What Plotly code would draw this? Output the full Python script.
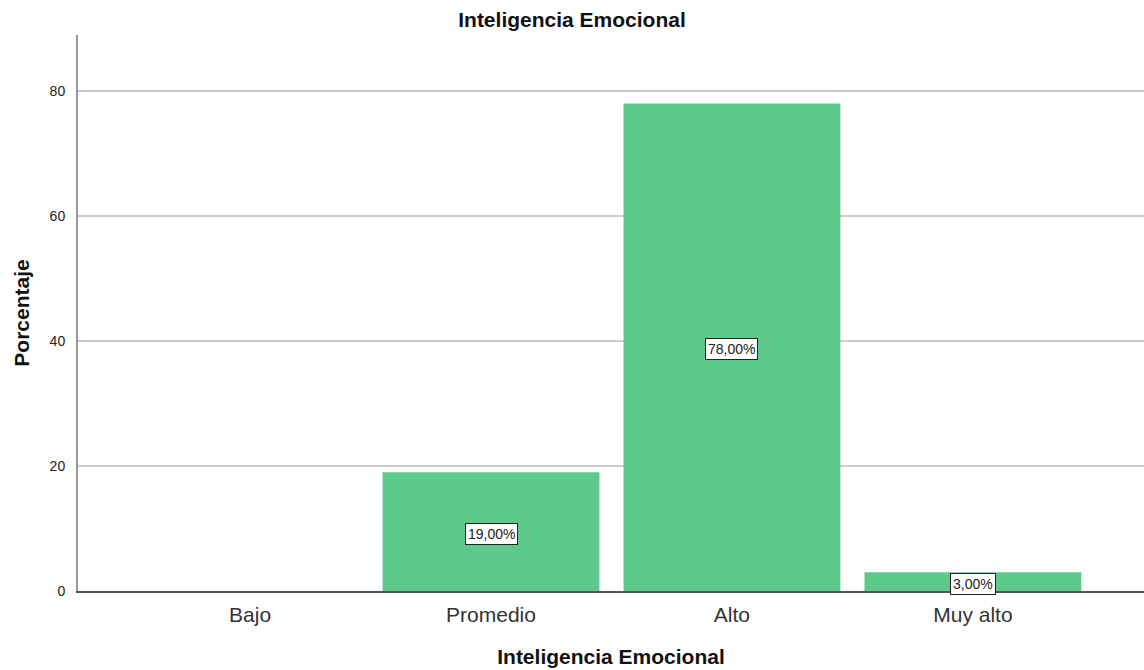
import plotly.graph_objects as go

categories = ["Bajo", "Promedio", "Alto", "Muy alto"]
values = [0, 19, 78, 3]
labels = ["", "19,00%", "78,00%", "3,00%"]
y_ticks = [0, 20, 40, 60, 80]

FONT = "Liberation Sans, Arial, sans-serif"

fig = go.Figure()
fig.add_trace(go.Bar(
    x=categories, y=values,
    marker=dict(color="#5dc98a", line=dict(width=0)),
    hoverinfo="skip",
))

for c, v, t in zip(categories, values, labels):
    if t:
        fig.add_annotation(
            x=c, y=v / 2, xref="x", yref="y", yshift=-2, text=t, showarrow=False,
            font=dict(family=FONT, size=14, color="#222"),
            bgcolor="white", bordercolor="#222", borderwidth=1, borderpad=2,
        )

fig.update_layout(
    width=1144, height=670,
    margin=dict(l=78, r=0, t=35, b=79),
    paper_bgcolor="white", plot_bgcolor="white",
    bargap=0.1, showlegend=False,
    font=dict(family=FONT),
    title=dict(text="<b>Inteligencia Emocional</b>", x=0.5, xanchor="center",
               y=1 - 20 / 670, yanchor="middle", xref="container", yref="container",
               font=dict(family=FONT, size=21, color="#111")),
    xaxis=dict(
        range=[-0.714, 3.71],
        showline=True, linecolor="#555", linewidth=1.5,
        showgrid=False, ticks="", ticklabelstandoff=4,
        tickfont=dict(family=FONT, size=21, color="#333"),
        title=dict(text="<b>Inteligencia Emocional</b>", standoff=24,
                   font=dict(family=FONT, size=21, color="#111")),
    ),
    yaxis=dict(
        range=[0, 88.96], tickvals=y_ticks,
        showline=True, linecolor="#999", linewidth=2,
        showgrid=True, gridcolor="#cccccc", gridwidth=1.5,
        zeroline=False, ticks="", ticklabelstandoff=8,
        tickfont=dict(family=FONT, size=14, color="#222"),
        title=dict(text="<b>Porcentaje</b>", standoff=14,
                   font=dict(family=FONT, size=21, color="#111")),
    ),
)

fig.write_html("out.html")
